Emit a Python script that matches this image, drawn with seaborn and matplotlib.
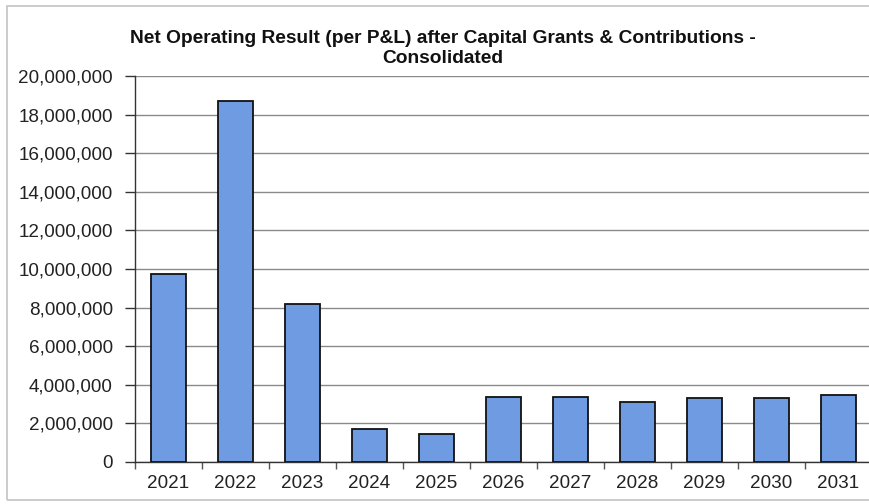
import matplotlib
matplotlib.use("Agg")
import matplotlib.pyplot as plt
import matplotlib.patches as mpatches
from matplotlib.ticker import FuncFormatter, FixedLocator
import seaborn as sns
import pandas as pd

years = ["2021", "2022", "2023", "2024", "2025", "2026",
         "2027", "2028", "2029", "2030", "2031"]
net_result = [9740000, 18720000, 8190000, 1690000, 1470000, 3370000,
              3370000, 3110000, 3310000, 3310000, 3450000]
y_ticks = [0, 2000000, 4000000, 6000000, 8000000, 10000000,
           12000000, 14000000, 16000000, 18000000, 20000000]
title_text = ("Net Operating Result (per P&L) after Capital Grants & Contributions -\n"
              "Consolidated")

sns.set_style("white")
plt.rcParams["font.family"] = ["Liberation Sans", "DejaVu Sans"]

df = pd.DataFrame({"year": years, "value": net_result})

W, H = 869, 504
fig = plt.figure(figsize=(W / 100, H / 100), dpi=100)
fig.patch.set_facecolor("white")

# plot area in pixel terms: x 135..872, y 76..462
ax = fig.add_axes([135 / W, (H - 462) / H, 737 / W, 386 / H])

sns.barplot(data=df, x="year", y="value", color="#6E9BE1", width=0.52,
            edgecolor="#111111", linewidth=1.3, saturation=1, ax=ax, zorder=3)

ax.set_xlim(-0.5, len(years) - 0.5)
ax.set_ylim(0, 20000000)
ax.set_yticks(y_ticks)
ax.yaxis.set_major_formatter(FuncFormatter(lambda v, p: f"{int(v):,}"))
ax.grid(axis="y", color="#8a8a8a", linewidth=1.0, zorder=0)
ax.set_axisbelow(True)

for s in ["top", "right"]:
    ax.spines[s].set_visible(False)
for s in ["left", "bottom"]:
    ax.spines[s].set_color("#333333")
    ax.spines[s].set_linewidth(1.0)

ax.tick_params(axis="y", which="major", direction="out", length=7, width=1,
               color="#333333", labelsize=13.6, labelcolor="#222222", pad=9, left=True)
ax.tick_params(axis="x", which="major", length=0, labelsize=13.6,
               labelcolor="#222222", pad=9.5)
ax.xaxis.set_minor_locator(FixedLocator([i - 0.5 for i in range(len(years) + 1)]))
ax.tick_params(axis="x", which="minor", direction="out", length=5, width=1,
               color="#555555", bottom=True)

ax.set_xlabel("")
ax.set_ylabel("")

fig.text(443 / W, 1 - 48.5 / H, title_text, ha="center", va="center",
         fontsize=13.8, fontweight="bold", color="#111111", linespacing=1.22)

# outer chart frame
fig.add_artist(mpatches.Rectangle((7 / W, (H - 500) / H), 1.0, 494 / H,
                                  transform=fig.transFigure, fill=False,
                                  edgecolor="#c4c4c4", linewidth=1.2))

fig.savefig("out.png", dpi=100, facecolor="white")
